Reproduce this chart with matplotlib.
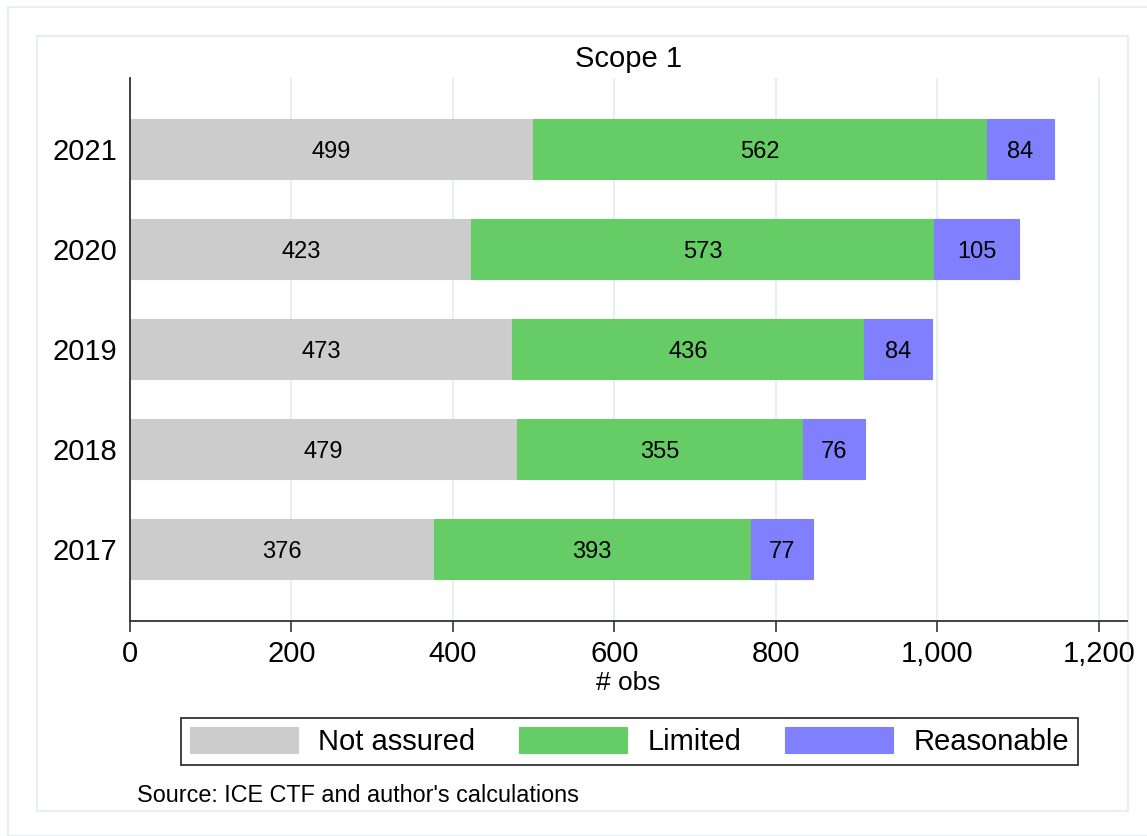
import matplotlib.pyplot as plt
from matplotlib.patches import Rectangle
from matplotlib.ticker import FuncFormatter

plt.rcParams['font.family'] = ['Liberation Sans', 'DejaVu Sans']

years = ['2017', '2018', '2019', '2020', '2021']
not_assured = [376, 479, 473, 423, 499]
limited = [393, 355, 436, 573, 562]
reasonable = [77, 76, 84, 105, 84]

series = [("Not assured", not_assured, "#cccccc"),
          ("Limited", limited, "#66cc66"),
          ("Reasonable", reasonable, "#8080ff")]

fig = plt.figure(figsize=(11.47, 8.36), dpi=100)
W, H = 1147, 836

# background frames (Stata style)
frame_col = "#e6eff1"
fig.patches.append(Rectangle((8 / W, 0), 2, 1 - 7 / H, transform=fig.transFigure,
                             fill=False, edgecolor=frame_col, lw=1.5, zorder=-2))
fig.patches.append(Rectangle((37 / W, 1 - 811 / H), (1128 - 37) / W, (811 - 36) / H,
                             transform=fig.transFigure, fill=False,
                             edgecolor=frame_col, lw=1.5, zorder=-2))

ax = fig.add_axes([130 / W, 1 - 621 / H, (1127 - 130) / W, (621 - 78) / H])
ypos = range(len(years))
left = [0] * len(years)
handles = []
for name, vals, col in series:
    b = ax.barh(ypos, vals, left=left, height=0.6, color=col, edgecolor=col,
                linewidth=0.8, label=name, zorder=2)
    handles.append(b)
    for y, v, l in zip(ypos, vals, left):
        ax.text(l + v / 2, y, str(v), ha='center', va='center_baseline',
                fontsize=17, zorder=3)
    left = [l + v for l, v in zip(left, vals)]

ax.set_xlim(0, 1235)
ax.set_ylim(-0.72, 4.71)
ax.set_xticks([0, 200, 400, 600, 800, 1000, 1200])
ax.xaxis.set_major_formatter(FuncFormatter(lambda v, p: f"{int(v):,}"))
ax.set_yticks(list(ypos))
ax.set_yticklabels(years)
ax.tick_params(axis='y', length=0, labelsize=21, pad=9)
ax.tick_params(axis='x', length=8, width=1.2, color="#333333", labelsize=21, pad=6)
ax.grid(axis='x', color="#e6eff1", lw=1.5, zorder=0)
ax.set_axisbelow(True)
for s in ['top', 'right']:
    ax.spines[s].set_visible(False)
for s in ['left', 'bottom']:
    ax.spines[s].set_color("#333333")
    ax.spines[s].set_linewidth(1.3)
ax.set_xlabel("# obs", fontsize=19, labelpad=2)
ax.set_title("Scope 1", fontsize=21, pad=8)

leg = fig.legend(handles=handles, loc='center', ncol=3,
                 bbox_to_anchor=(629.5 / W, 1 - 741.5 / H), fontsize=21,
                 frameon=True, fancybox=False, edgecolor='black',
                 handlelength=3.7, handleheight=1.0, columnspacing=1.5,
                 handletextpad=0.7, borderpad=0.3)
leg.get_frame().set_linewidth(1.3)

fig.text(137 / W, 1 - 796 / H, "Source: ICE CTF and author's calculations",
         fontsize=16.8, ha='left', va='center')

fig.savefig("out.png", dpi=100)
